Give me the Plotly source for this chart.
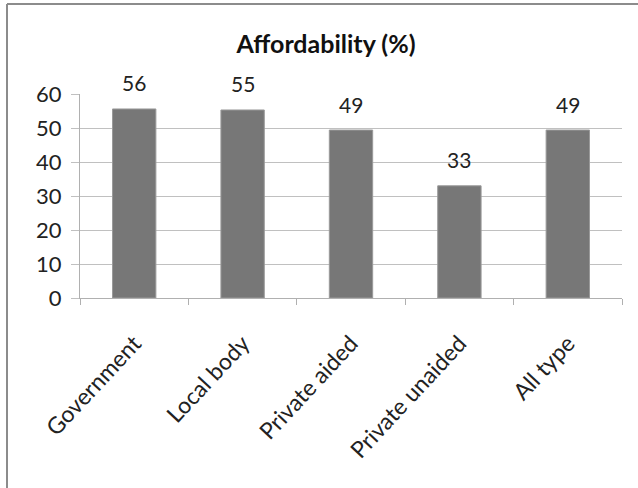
import plotly.graph_objects as go

categories = ["Government", "Local body", "Private aided", "Private unaided", "All type"]
values = [55.6, 55.3, 49.4, 33.0, 49.4]
labels = ["56", "55", "49", "33", "49"]
y_ticks = [0, 10, 20, 30, 40, 50, 60]

W, H = 638, 488
L, R, T, B = 80, 16, 94, 190
pw = W - L - R
ph = H - T - B

def px_x(x):
    return (x - L) / pw

def px_y(y):
    return (H - B - y) / ph

font = "Lato, 'Open Sans', sans-serif"

fig = go.Figure()
fig.add_trace(go.Bar(
    x=categories, y=values,
    marker=dict(color="#777777", line=dict(color="#9a9a9a", width=1)),
    width=0.4,
    hoverinfo="skip",
))

for c, v, t in zip(categories, values, labels):
    fig.add_annotation(x=c, y=v, text=t, showarrow=False, yshift=26,
                       font=dict(size=21, color="#222222", family=font))

fig.add_shape(type="line", xref="paper", yref="paper",
              x0=px_x(7), x1=px_x(645), y0=px_y(4), y1=px_y(4),
              line=dict(color="#8c8c8c", width=2))
fig.add_shape(type="line", xref="paper", yref="paper",
              x0=px_x(7), x1=px_x(7), y0=px_y(4), y1=px_y(495),
              line=dict(color="#8c8c8c", width=2))

fig.update_layout(
    width=W, height=H,
    margin=dict(l=L, r=R, t=T, b=B, autoexpand=False),
    paper_bgcolor="white", plot_bgcolor="white",
    showlegend=False,
    title=dict(text="<b>Affordability (%)</b>", xref="container", x=326 / W,
               xanchor="center",
               y=1 - 44 / H, yanchor="middle",
               font=dict(size=25, color="#111111", family=font)),
    font=dict(family=font, color="#222222"),
)
fig.update_xaxes(
    type="category", tickangle=-47, tickson="boundaries",
    ticks="outside", ticklen=6, tickcolor="#b0b0b0",
    ticklabelstandoff=22,
    showline=True, linecolor="#b0b0b0", linewidth=1,
    showgrid=False,
    tickfont=dict(size=23, color="#222222", family=font),
)
fig.update_yaxes(
    range=[0, 60], tickvals=y_ticks,
    ticks="outside", ticklen=8, tickcolor="#c0c0c0",
    ticklabelstandoff=5,
    showline=True, linecolor="#b0b0b0", linewidth=1,
    showgrid=True, gridcolor="#c0c0c0", gridwidth=1,
    zeroline=False,
    tickfont=dict(size=22, color="#222222", family=font),
)

fig.write_html("out.html")
